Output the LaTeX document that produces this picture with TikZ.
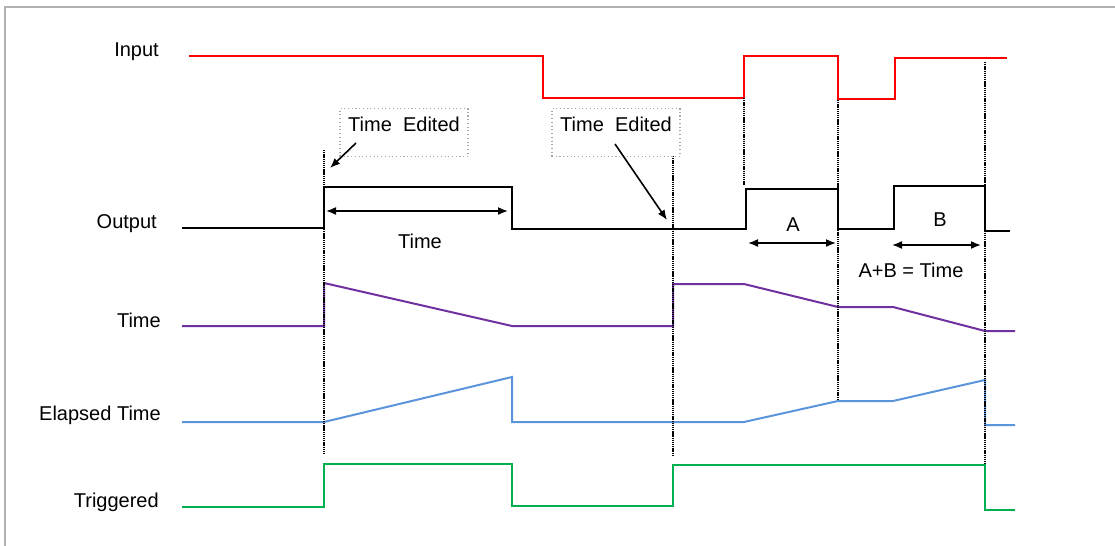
\documentclass[tikz,border=0pt]{standalone}
\usepackage{fontspec}
\setmainfont{Liberation Sans}
\usetikzlibrary{arrows.meta,positioning}

\begin{document}
\begin{tikzpicture}[
  x=0.75pt,
  y=-0.75pt,
  font=\fontsize{15}{17}\selectfont,
  >={Latex[length=7.5pt,width=6pt]},
  signal/.style={line width=1.5pt},
  marker/.style={dash pattern=on 1pt off 0.6pt, line width=0.8pt, draw=black},
  siglabel/.style={anchor=base east, inner sep=0pt},
  editbox/.style={
    rectangle,
    draw=black!35,
    dotted,
    line width=0.8pt,
    minimum width=96pt,
    inner xsep=4pt,
    inner ysep=7pt,
    text height=10.5pt,
    text depth=11.5pt
  },
  dim/.style={<->, line width=1.2pt},
  pointer/.style={->, line width=1.2pt}
]

\useasboundingbox (0,0) rectangle (1115,546);
\draw[black!30, line width=1.5pt] (5,7) rectangle (1130,560);

% signal names
\node[siglabel] (lblin)  at (159,56)  {Input};
\node[siglabel] (lblout) at (157,228) {Output};
\node[siglabel] (lbltm)  at (161,327) {Time};
\node[siglabel] (lblel)  at (161,420) {Elapsed Time};
\node[siglabel] (lbltr)  at (159,507) {Triggered};

% traces
\draw[signal, red] (189,56) -- (543,56) -- (543,98) -- (744,98) -- (744,56)
  -- (838,56) -- (838,99) -- (895,99) -- (895,58) -- (1007,58);
\draw[signal, black] (182,228) -- (324,228) -- (324,187) -- (512,187) -- (512,229)
  -- (746,229) -- (746,189) -- (838,189) -- (838,229) -- (894,229) -- (894,186)
  -- (985,186) -- (985,231) -- (1010,231);
\draw[signal, color={rgb,255:red,112;green,48;blue,160}] (182,326) -- (324,326) -- (324,283)
  -- (512,326) -- (673,326) -- (673,284) -- (744,284) -- (838,307) -- (893,307)
  -- (985,331) -- (1015,331);
\draw[signal, color={rgb,255:red,91;green,148;blue,218}] (182,422) -- (324,422) -- (512,377)
  -- (512,422) -- (744,422) -- (838,401) -- (893,401) -- (985,380) -- (985,425)
  -- (1015,425);
\draw[signal, color={rgb,255:red,0;green,176;blue,80}] (182,507) -- (324,507) -- (324,464)
  -- (512,464) -- (512,506) -- (673,506) -- (673,465) -- (985,465) -- (985,510)
  -- (1015,510);

% event markers
\draw[marker] (324,150) -- (324,455);
\draw[marker] (673,156) -- (673,455);
\draw[marker] (744,98) -- (744,185);
\draw[marker] (838,100) -- (838,400);
\draw[marker] (985,62) -- (985,465);

% edit notes
\node[editbox, anchor=north] (edit1) at (404,108) {Time\ \ Edited};
\node[editbox, anchor=north] (edit2) at (616,108) {Time\ \ Edited};
\coordinate (tail1) at (356,143);
\coordinate (tip1) at (330,168);
\coordinate (tail2) at (615,144);
\coordinate (tip2) at (667,220);
\draw[pointer] (tail1) -- (tip1);
\draw[pointer] (tail2) -- (tip2);

% durations
\coordinate (t0) at (326,211);
\coordinate (t1) at (508,211);
\draw[dim] (t0) -- (t1);
\node (timelbl) at (420,241) {Time};

\coordinate (a0) at (748,243);
\coordinate (a1) at (836,243);
\draw[dim] (a0) -- (a1);
\node (alabel) at (793,225) {A};

\coordinate (b0) at (892,245);
\coordinate (b1) at (981,245);
\draw[dim] (b0) -- (b1);
\node (blabel) at (940,220) {B};

\node (sumlbl) at (911,270) {A+B = Time};

\end{tikzpicture}
\end{document}
